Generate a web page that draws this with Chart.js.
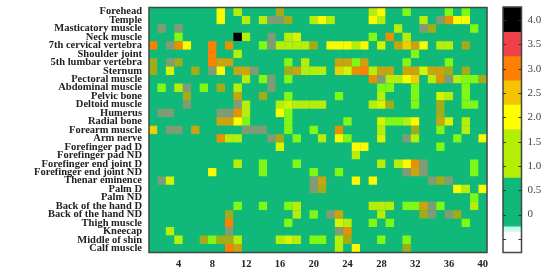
<!DOCTYPE html>
<html><head><meta charset="utf-8">
<script src="https://cdn.jsdelivr.net/npm/chart.js@4/dist/chart.umd.min.js"></script>
<style>html,body{margin:0;padding:0;background:#fff;overflow:hidden}
#w{position:relative;width:550px;height:274px;filter:blur(0.35px)}
canvas{position:absolute;left:0;top:0}</style></head>
<body><div id="w"><canvas id="main" width="550" height="274"></canvas><canvas id="bar" width="550" height="274"></canvas></div>
<script>
const rowLabels = ["Forehead","Temple","Masticatory muscle","Neck muscle","7th cervical vertebra","Shoulder joint","5th lumbar vertebra","Sternum","Pectoral muscle","Abdominal muscle","Pelvic bone","Deltoid muscle","Humerus","Radial bone","Forearm muscle","Arm nerve","Forefinger pad D","Forefinger pad ND","Forefinger end joint D","Forefinger end joint ND","Thenar eminence","Palm D","Palm ND","Back of the hand D","Back of the hand ND","Thigh muscle","Kneecap","Middle of shin","Calf muscle"];
const columnLabels = ["1","2","3","4","5","6","7","8","9","10","11","12","13","14","15","16","17","18","19","20","21","22","23","24","25","26","27","28","29","30","31","32","33","34","35","36","37","38","39","40"];
// non-zero cells per row: [column, value]; every other cell is 0
const heat = [
[[9,2],[11,1.5],[16,1.7],[27,1.5],[28,2],[31,1],[36,1],[38,1]],
[[9,2],[12,1.5],[14,1.5],[15,.7],[16,.7],[17,1.7],[20,1.5],[21,2],[22,1.5],[27,2],[28,1.5],[33,1.5],[35,.7],[36,2.75],[37,2],[38,2]],
[[2,.7],[4,.7],[30,1.5],[33,.7],[34,1.7],[39,1]],
[[4,1],[11,4],[12,1.5],[15,.7],[17,1.5],[18,1.8],[27,1],[29,2.75],[31,1.5]],
[[1,3],[3,.7],[4,2.75],[5,2],[8,3],[10,2.75],[14,1],[15,.7],[16,1.5],[17,1.5],[18,1.5],[19,1.5],[20,1.7],[22,2],[23,2],[24,2],[25,1.5],[26,2],[28,1.8],[30,2.5],[31,2.25],[32,2.5],[33,2],[35,1.5],[36,1.5],[38,1.7]],
[[8,3],[11,1.5],[32,1]],
[[1,1.7],[3,.7],[4,1.7],[8,3],[9,2.5],[10,2.5],[17,1],[19,1.5],[23,2.5],[24,2.5],[25,1],[26,2.5],[31,1],[36,1]],
[[1,1.7],[3,1.8],[6,1.7],[8,.7],[9,2],[11,2.5],[12,2.5],[13,.7],[17,1.7],[18,2.5],[19,1.5],[20,1.5],[21,1.5],[23,2.25],[24,1.8],[25,2.75],[26,3],[27,1.5],[28,2.5],[29,2.5],[31,2.5],[32,2.5],[33,1.8],[34,2.5],[35,2.5],[36,1.7],[38,1.7]],
[[12,1.5],[14,1],[15,.7],[17,1],[27,2.75],[28,.7],[29,1.5],[30,1.5],[31,2],[32,2.25],[34,1.5],[35,2.75],[36,.7],[37,1.5],[38,1],[39,1],[40,1.7]],
[[2,1],[4,1.5],[5,.7],[7,1],[9,1.7],[11,1.5],[15,.7],[28,1],[29,1],[32,1],[38,1]],
[[5,1.7],[11,2.5],[14,1.7],[17,1],[23,1],[28,1.5],[32,1],[35,1.8],[36,1.5],[38,1]],
[[5,.7],[11,.7],[12,1.5],[16,1.5],[17,1.8],[18,1.5],[19,1.5],[20,1.5],[21,1.5],[27,1.5],[28,1.8],[29,1.7],[32,1],[35,1.7],[38,1],[39,1]],
[[2,.7],[3,.7],[9,.7],[10,.7],[11,2.75],[12,1.5],[16,2],[17,1],[35,1.7]],
[[9,2.5],[10,2.5],[11,2],[12,1],[17,1],[24,1],[28,1.8],[29,1],[30,1],[31,1.5],[32,2],[35,2.5],[36,1.8],[38,1.5]],
[[1,2.25],[3,.7],[4,.7],[6,2.5],[12,.7],[13,.7],[14,.7],[17,1],[20,1],[23,2.75],[28,1.5],[32,1.7],[35,1],[38,1.5]],
[[9,2.75],[10,1.5],[11,1.5],[15,.7],[16,1.7],[18,1],[21,1.5],[23,2],[24,1],[28,1.8],[31,.7],[32,1.5],[37,1],[40,2]],
[[16,1.8],[25,2],[26,2],[35,1]],
[[25,1.5]],
[[11,1.5],[14,1],[18,1],[28,1.5],[30,1.5],[31,2],[32,2.75],[33,.7],[39,1]],
[[8,2],[14,1],[20,1],[23,1],[31,.7],[32,2.5],[33,.7],[39,1]],
[[2,.7],[3,1.8],[20,.7],[21,2.5],[25,2],[27,2],[34,.7],[35,1.7],[36,.7]],
[[20,.7],[21,1.7],[37,2],[38,1.5],[40,2]],
[[39,1]],
[[11,1],[14,1],[17,1],[18,1.5],[27,1.5],[28,1.5],[29,1.5],[31,1],[32,1],[33,2.5],[34,.7],[35,1],[39,1.5]],
[[10,1.7],[18,1.5],[20,1],[22,.7],[23,2.5],[28,1.5],[33,1.7],[34,.7],[36,.7],[37,1.7]],
[[10,3],[17,1],[23,1.8],[24,1.5],[27,1],[29,1],[38,1]],
[[3,1.5],[10,.7],[23,.7],[24,2.75]],
[[4,1.5],[7,1.7],[8,1],[9,1.7],[10,1.7],[11,1.5],[16,1.5],[17,1.8],[18,1.5],[20,1],[21,1],[23,1.5],[24,1.7],[28,1],[31,1]],
[[10,3],[11,2.5],[23,1.5],[25,2],[31,1.7]]
];
const xTickValues = ["4","8","12","16","20","24","28","32","36","40"];
const barTicks = [-0.5,0,0.5,1,1.5,2,2.5,3,3.5,4];
const barLabels = ["","0","0.5","1.0","1.5","2.0","2.5","3.0","3.5","4.0"];
const barLow  = [-0.78,-0.36,-0.25,0.75,1.75,2.25,2.75,3.25,3.75];
const barHigh = [-0.36,-0.25,0.75,1.75,2.25,2.75,3.25,3.75,4.27];
const barColors = ["#ffffff","#c8fbf0","#10b87a","#b4ee04","#ffff00","#f5c400","#ff7f00","#f04048","#000000"];

const palette = {0:"#10b87a",0.7:"#7f9c74",1:"#80f816",1.5:"#b6ee0c",1.7:"#a2ac18",1.8:"#d4f400",2:"#fbfb00",2.25:"#eed000",2.5:"#c8a410",2.75:"#e69200",3:"#ff7f00",3.5:"#f04048",4:"#000000"};

const points = [];
rowLabels.forEach((r, ri) => {
  const m = new Map(heat[ri]);
  columnLabels.forEach((c, ci) => points.push({x: c, y: r, v: m.get(ci + 1) || 0}));
});

const noPad = s => { s.paddingTop = 0; s.paddingBottom = 0; s.paddingLeft = 0; s.paddingRight = 0; };

const frame = {id:"frame",
  afterDatasetsDraw(ch){
    const a = ch.chartArea, g = ch.ctx;
    g.save(); g.strokeStyle = "#3d4a44"; g.lineWidth = 1.5;
    g.strokeRect(a.left, a.top, a.right - a.left, a.bottom - a.top);
    g.restore();
  }};
const field = {id:"field", beforeDatasetsDraw(ch){
    const a = ch.chartArea, g = ch.ctx;
    g.save(); g.fillStyle = palette[0];
    g.fillRect(a.left, a.top, a.right - a.left, a.bottom - a.top);
    g.restore();
  }};

new Chart(document.getElementById("main"), {
  type: "scatter",
  data: {datasets: [{data: points, pointStyle: "rect", pointRadius: 6.05, pointBorderWidth: 0,
    pointBackgroundColor: c => palette[c.raw.v], hoverRadius: 6.05}]},
  options: {
    responsive: false, animation: false, events: [],
    layout: {padding: {left: 0, top: 7.5, right: 63, bottom: 0}},
    plugins: {legend: {display: false}, tooltip: {enabled: false}},
    scales: {
      x: {type: "category", labels: columnLabels, offset: true, grid: {display: false, drawTicks: false}, border: {display: false},
        afterFit: s => { s.height = 21.5; noPad(s); },
        ticks: {autoSkip: false, maxRotation: 0, padding: 5, color: "#222",
          font: {family: "Liberation Serif", weight: "bold", size: 10.5},
          callback(v){ const l = columnLabels[v]; return xTickValues.includes(l) ? l : ""; }}},
      y: {type: "category", labels: rowLabels, offset: true, grid: {display: false, drawTicks: false}, border: {display: false},
        afterFit: s => { s.width = 149; noPad(s); },
        ticks: {autoSkip: false, padding: 7, color: "#222",
          font: {family: "Liberation Serif", weight: "bold", size: 10.5}}}
    }
  },
  plugins: [field, frame]
});

const inTicks = {id:"inTicks", afterDatasetsDraw(ch){
  const a = ch.chartArea, g = ch.ctx, s = ch.scales.y;
  g.save(); g.strokeStyle = "#333"; g.lineWidth = 1;
  barTicks.forEach(v => { const y = Math.round(s.getPixelForValue(v)) + .5;
    g.beginPath(); g.moveTo(a.left, y); g.lineTo(a.left + 3, y);
    g.moveTo(a.right - 3, y); g.lineTo(a.right, y); g.stroke(); });
  g.restore();
}};

new Chart(document.getElementById("bar"), {
  type: "bar",
  data: {labels: ["scale"], datasets: barColors.map((col, i) => ({
    data: [[barLow[i], barHigh[i]]], backgroundColor: col, borderWidth: 0,
    barPercentage: 1, categoryPercentage: 1, grouped: false}))},
  options: {
    responsive: false, animation: false, events: [],
    layout: {padding: {left: 503, top: 7, right: 0, bottom: 21.5}},
    plugins: {legend: {display: false}, tooltip: {enabled: false}},
    scales: {
      x: {display: false},
      y: {position: "right", min: -0.78, max: 4.27, grid: {display: false, drawTicks: false}, border: {display: false},
        afterFit: s => { s.width = 28.5; noPad(s); },
        afterBuildTicks: s => { s.ticks = barTicks.map(v => ({value: v})); },
        ticks: {padding: 6, color: "#444", font: {family: "Liberation Serif", size: 11},
          callback(v){ return barLabels[barTicks.indexOf(v)]; }}}
    }
  },
  plugins: [frame, inTicks]
});
</script></body></html>
